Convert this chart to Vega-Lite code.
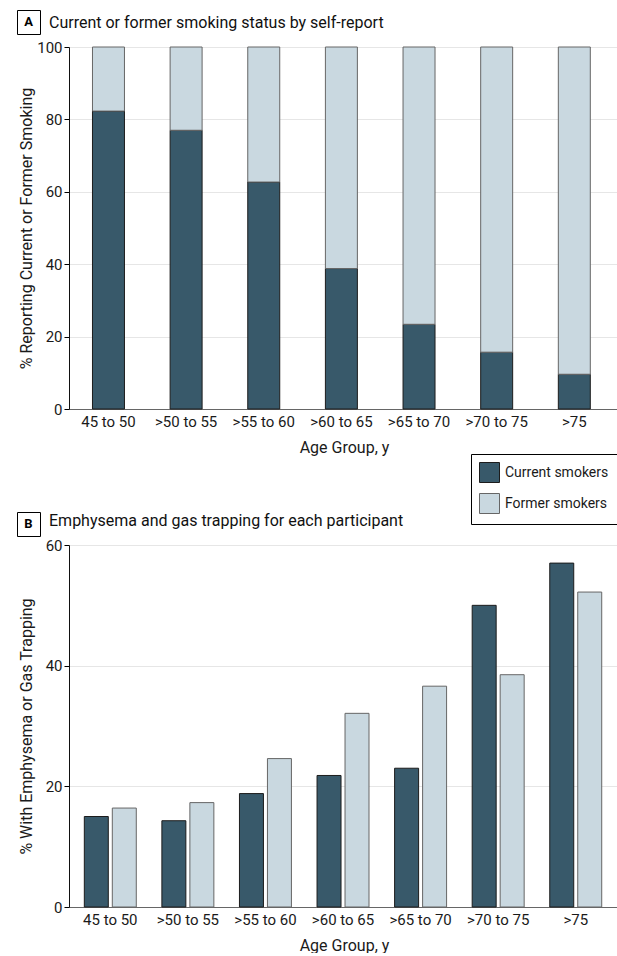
{
  "$schema": "https://vega.github.io/schema/vega-lite/v6.json",
  "background": "white",
  "padding": {"left": 16, "top": 9, "right": 0, "bottom": 0},
  "datasets": {
    "smoking": [
      {"age": "45 to 50", "status": "Current smokers", "pct": 82.3},
      {"age": "45 to 50", "status": "Former smokers", "pct": 17.7},
      {"age": ">50 to 55", "status": "Current smokers", "pct": 77.0},
      {"age": ">50 to 55", "status": "Former smokers", "pct": 23.0},
      {"age": ">55 to 60", "status": "Current smokers", "pct": 62.7},
      {"age": ">55 to 60", "status": "Former smokers", "pct": 37.3},
      {"age": ">60 to 65", "status": "Current smokers", "pct": 38.8},
      {"age": ">60 to 65", "status": "Former smokers", "pct": 61.2},
      {"age": ">65 to 70", "status": "Current smokers", "pct": 23.4},
      {"age": ">65 to 70", "status": "Former smokers", "pct": 76.6},
      {"age": ">70 to 75", "status": "Current smokers", "pct": 15.7},
      {"age": ">70 to 75", "status": "Former smokers", "pct": 84.3},
      {"age": ">75", "status": "Current smokers", "pct": 9.6},
      {"age": ">75", "status": "Former smokers", "pct": 90.4}
    ],
    "emph": [
      {"age": "45 to 50", "status": "Current smokers", "pct": 15.0},
      {"age": "45 to 50", "status": "Former smokers", "pct": 16.4},
      {"age": ">50 to 55", "status": "Current smokers", "pct": 14.3},
      {"age": ">50 to 55", "status": "Former smokers", "pct": 17.3},
      {"age": ">55 to 60", "status": "Current smokers", "pct": 18.8},
      {"age": ">55 to 60", "status": "Former smokers", "pct": 24.6},
      {"age": ">60 to 65", "status": "Current smokers", "pct": 21.8},
      {"age": ">60 to 65", "status": "Former smokers", "pct": 32.1},
      {"age": ">65 to 70", "status": "Current smokers", "pct": 23.0},
      {"age": ">65 to 70", "status": "Former smokers", "pct": 36.6},
      {"age": ">70 to 75", "status": "Current smokers", "pct": 50.0},
      {"age": ">70 to 75", "status": "Former smokers", "pct": 38.5},
      {"age": ">75", "status": "Current smokers", "pct": 57.0},
      {"age": ">75", "status": "Former smokers", "pct": 52.2}
    ],
    "letterA": [{"letter": "A"}],
    "letterB": [{"letter": "B"}]
  },
  "spacing": -23,
  "hconcat": [
    {
      "spacing": 476,
      "vconcat": [
        {
          "width": 23,
          "height": 24,
          "data": {"name": "letterA"},
          "view": {"stroke": "black", "strokeWidth": 1},
          "mark": {"type": "text", "fontWeight": "bold", "fontSize": 13, "font": "Roboto", "color": "black"},
          "encoding": {"text": {"field": "letter", "type": "nominal"}}
        },
        {
          "width": 23,
          "height": 24,
          "data": {"name": "letterB"},
          "view": {"stroke": "black", "strokeWidth": 1},
          "mark": {"type": "text", "fontWeight": "bold", "fontSize": 13, "font": "Roboto", "color": "black"},
          "encoding": {"text": {"field": "letter", "type": "nominal"}}
        }
      ]
    },
    {
      "spacing": 53,
      "vconcat": [
        {
          "spacing": 6,
          "vconcat": [
            {
              "width": 1,
              "height": 24,
              "data": {"name": "letterA"},
              "title": {"text": "Current or former smoking status by self-report", "anchor": "start", "frame": "group", "dx": -20, "dy": 29, "offset": 0, "baseline": "middle", "fontSize": 16, "fontWeight": "normal", "font": "Roboto", "color": "#111111"},
              "mark": {"type": "point", "filled": true, "size": 0, "opacity": 0},
              "encoding": {}
            },
            {
              "width": 550,
              "height": 362,
              "data": {"name": "smoking"},
              "mark": {"type": "bar", "strokeWidth": 1},
              "encoding": {
                "x": {"field": "age", "type": "nominal", "sort": ["45 to 50", ">50 to 55", ">55 to 60", ">60 to 65", ">65 to 70", ">70 to 75", ">75"],
                  "scale": {"paddingInner": 0.588, "paddingOuter": 0.336, "align": 0.45},
                  "axis": {"title": "Age Group, y", "labelAngle": 0, "ticks": false, "grid": false}},
                "y": {"field": "pct", "type": "quantitative", "stack": "zero", "scale": {"domain": [0, 100]},
                  "axis": {"title": "% Reporting Current or Former Smoking", "values": [0, 20, 40, 60, 80, 100], "minExtent": 33}},
                "color": {"field": "status", "type": "nominal", "scale": {"domain": ["Current smokers", "Former smokers"], "range": ["#38596a", "#c9d8e0"]},
                  "legend": {"orient": "none", "legendX": 454, "legendY": 444, "title": null}},
                "stroke": {"field": "status", "type": "nominal", "scale": {"domain": ["Current smokers", "Former smokers"], "range": ["#1c1c1c", "#666666"]},
                  "legend": {"orient": "none", "legendX": 454, "legendY": 444, "title": null}},
                "order": {"field": "status", "type": "nominal"}
              }
            }
          ]
        },
        {
          "spacing": 6,
          "vconcat": [
            {
              "width": 1,
              "height": 24,
              "data": {"name": "letterB"},
              "title": {"text": "Emphysema and gas trapping for each participant", "anchor": "start", "frame": "group", "dx": -20, "dy": 29, "offset": 0, "baseline": "middle", "fontSize": 16, "fontWeight": "normal", "font": "Roboto", "color": "#111111"},
              "mark": {"type": "point", "filled": true, "size": 0, "opacity": 0},
              "encoding": {}
            },
            {
              "width": 550,
              "height": 362,
              "data": {"name": "emph"},
              "mark": {"type": "bar", "strokeWidth": 1},
              "encoding": {
                "x": {"field": "age", "type": "nominal", "sort": ["45 to 50", ">50 to 55", ">55 to 60", ">60 to 65", ">65 to 70", ">70 to 75", ">75"],
                  "scale": {"paddingInner": 0.33, "paddingOuter": 0.21, "align": 0.47},
                  "axis": {"title": "Age Group, y", "labelAngle": 0, "ticks": false, "grid": false}},
                "xOffset": {"field": "status", "type": "nominal", "sort": ["Current smokers", "Former smokers"], "scale": {"paddingInner": 0.143, "paddingOuter": 0}},
                "y": {"field": "pct", "type": "quantitative", "scale": {"domain": [0, 60]},
                  "axis": {"title": "% With Emphysema or Gas Trapping", "values": [0, 20, 40, 60], "minExtent": 33}},
                "color": {"field": "status", "type": "nominal", "scale": {"domain": ["Current smokers", "Former smokers"], "range": ["#38596a", "#c9d8e0"]},
                  "legend": {"orient": "none", "legendX": 454, "legendY": 444, "title": null}},
                "stroke": {"field": "status", "type": "nominal", "scale": {"domain": ["Current smokers", "Former smokers"], "range": ["#1c1c1c", "#666666"]},
                  "legend": {"orient": "none", "legendX": 454, "legendY": 444, "title": null}}
              }
            }
          ]
        }
      ]
    }
  ],
  "config": {
    "view": {"stroke": null},
    "font": "Roboto",
    "axis": {"labelFont": "Roboto", "titleFont": "Roboto", "labelFontSize": 15, "titleFontSize": 16, "titleFontWeight": "normal", "labelColor": "#1a1a1a", "titleColor": "#1a1a1a", "domainColor": "black", "tickColor": "black"},
    "axisY": {"gridColor": "#e6e6e6", "tickSize": 5, "labelPadding": 2, "titlePadding": 2, "domainColor": "#111111"},
    "axisX": {"domainColor": "#666666", "labelPadding": 5, "titlePadding": 10},
    "legend": {"symbolType": "square", "symbolSize": 400, "symbolStrokeWidth": 1, "labelFont": "Roboto", "labelFontSize": 14, "labelColor": "#1a1a1a", "padding": 8, "rowPadding": 6, "labelOffset": 5, "strokeColor": "black", "fillColor": "white"}
  }
}
